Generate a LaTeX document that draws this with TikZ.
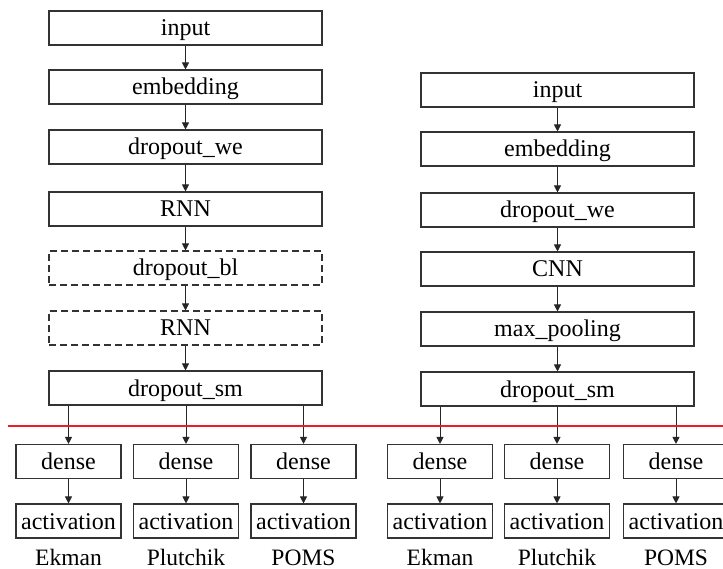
\documentclass[tikz,border=0pt]{standalone}
\usepackage{fontspec}
\setmainfont{Liberation Serif}
\usetikzlibrary{arrows.meta}
\definecolor{redline}{RGB}{235,30,40}
\tikzset{
  box/.style={draw=black!80, line width=1.1pt, minimum height=34pt, inner sep=0pt, font=\fontsize{24}{26}\selectfont, text height=19pt, text depth=3pt},
  wide/.style={box, minimum width=273pt},
  small/.style={box, minimum width=105pt},
  dashbox/.style={wide, dash pattern=on 7pt off 4pt},
  lbl/.style={font=\fontsize{23.5}{26}\selectfont, inner sep=0pt, anchor=base},
  arr/.style={draw=black!85, line width=1pt, -{Triangle[length=7pt,width=7pt]}},
}
\begin{document}
\begin{tikzpicture}[x=1pt,y=-1pt]
\useasboundingbox (0,0) rectangle (723,569);
\clip (0,0) rectangle (723,569);
% left column
\node[wide] (l1) at (185.5,28) {input};
\node[wide] (l2) at (185.5,87) {embedding};
\node[wide] (l3) at (185.5,147) {dropout\_we};
\node[wide] (l4) at (185.5,209) {RNN};
\node[dashbox] (l5) at (185.5,268) {dropout\_bl};
\node[dashbox] (l6) at (185.5,328) {RNN};
\node[wide] (l7) at (185.5,388) {dropout\_sm};
\foreach \a/\b in {l1/l2,l2/l3,l3/l4,l4/l5,l5/l6,l6/l7} \draw[arr] (\a) -- (\b);
% right column
\node[wide] (r1) at (557.5,90) {input};
\node[wide] (r2) at (557.5,149) {embedding};
\node[wide] (r3) at (557.5,210) {dropout\_we};
\node[wide] (r4) at (557.5,269) {CNN};
\node[wide] (r5) at (557.5,329) {max\_pooling};
\node[wide] (r6) at (557.5,389) {dropout\_sm};
\foreach \a/\b in {r1/r2,r2/r3,r3/r4,r4/r5,r5/r6} \draw[arr] (\a) -- (\b);
% left heads
\foreach \i/\x/\n in {1/68.5/Ekman,2/186/Plutchik,3/303.5/POMS}{
  \node[small] (ld\i) at (\x,461.5) {dense};
  \node[small] (la\i) at (\x,521) {activation};
  \node[lbl] (ll\i) at (\x,565) {\n};
  \draw[arr] (l7.south -| ld\i) -- (ld\i);
  \draw[arr] (ld\i) -- (la\i);
}
% right heads
\foreach \i/\x/\n in {1/440/Ekman,2/557/Plutchik,3/676/POMS}{
  \node[small] (rd\i) at (\x,461.5) {dense};
  \node[small] (ra\i) at (\x,521) {activation};
  \node[lbl] (rl\i) at (\x,565) {\n};
  \draw[arr] (r6.south -| rd\i) -- (rd\i);
  \draw[arr] (rd\i) -- (ra\i);
}
% red line
\draw[draw=redline, line width=2pt] (8,425.5) -- (723,425.5);
\end{tikzpicture}
\end{document}
